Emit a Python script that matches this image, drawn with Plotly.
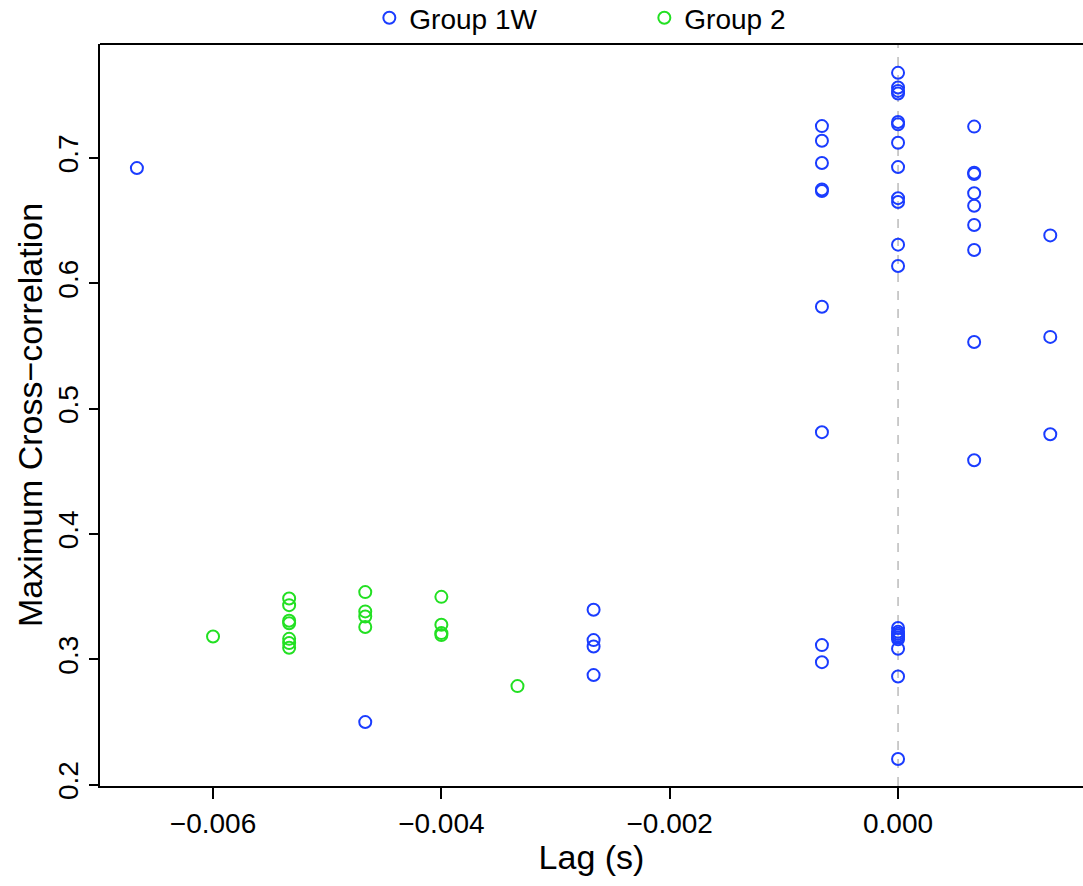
import plotly.graph_objects as go

# Lags are multiples of 1/1500 s
g1_lag_steps = ([-10, -7] + [-4] * 4 + [-1] * 9 + [0] * 21 + [1] * 9 + [2] * 3)
g1_corr = [
    0.692, 0.250,
    0.3396, 0.3154, 0.3103, 0.2875,
    0.7255, 0.7138, 0.696, 0.675, 0.6737, 0.5814, 0.4813, 0.3114, 0.2978,
    0.768, 0.7563, 0.7536, 0.7515, 0.7288, 0.7269, 0.7122, 0.6928, 0.668, 0.665,
    0.6309, 0.6139, 0.325, 0.322, 0.319, 0.316, 0.3085, 0.2864, 0.2205, 0.3205, 0.3175,
    0.7251, 0.6883, 0.6872, 0.6719, 0.662, 0.6466, 0.6266, 0.5533, 0.4589,
    0.6383, 0.5573, 0.4797,
]
g2_lag_steps = [-9] + [-8] * 7 + [-7] * 4 + [-6] * 4 + [-5]
g2_corr = [
    0.3183,
    0.3486, 0.3433, 0.3308, 0.3289, 0.3164, 0.313, 0.3093,
    0.3537, 0.3383, 0.3342, 0.3258,
    0.3499, 0.3276, 0.321, 0.3194,
    0.2787,
]
fs = 1500.0
g1_lag = [s / fs for s in g1_lag_steps]
g2_lag = [s / fs for s in g2_lag_steps]

x_ticks = [-0.006, -0.004, -0.002, 0.0]
y_ticks = [0.2, 0.3, 0.4, 0.5, 0.6, 0.7]

BLUE = "#1a3cff"
GREEN = "#22e022"
FONT = "Liberation Sans, Arial, Helvetica, sans-serif"

fig = go.Figure()
fig.add_trace(go.Scatter(
    x=g1_lag, y=g1_corr, mode="markers", name="Group 1W",
    marker=dict(symbol="circle-open", size=12, color=BLUE, line=dict(width=2, color=BLUE)),
))
fig.add_trace(go.Scatter(
    x=g2_lag, y=g2_corr, mode="markers", name="Group 2",
    marker=dict(symbol="circle-open", size=12, color=GREEN, line=dict(width=2, color=GREEN)),
))

fig.add_shape(type="line", xref="x", yref="paper", x0=0, x1=0, y0=0, y1=1,
              line=dict(color="#bbbbbb", width=1.5, dash="dash"), layer="below")
fig.add_shape(type="line", xref="paper", yref="paper", x0=0, x1=1, y0=1, y1=1,
              line=dict(color="black", width=1.8))

fig.update_layout(
    width=1083, height=886,
    margin=dict(l=100, r=0, t=44, b=100, autoexpand=False),
    plot_bgcolor="white", paper_bgcolor="white",
    font=dict(family=FONT, size=28, color="black"),
    showlegend=True,
    legend=dict(orientation="h", x=0.274, xanchor="left", y=1.0687, yanchor="top",
                font=dict(size=28), entrywidth=230, entrywidthmode="pixels",
                bgcolor="rgba(0,0,0,0)", itemclick=False),
    xaxis=dict(
        range=[-0.00699, 0.00162], tickvals=x_ticks, tickformat=".3f", automargin=False,
        showgrid=False, zeroline=False, showline=True, linecolor="black", linewidth=1.8,
        ticks="outside", ticklen=11, tickwidth=1.5, tickcolor="black",
        title=dict(text="Lag (s)", standoff=8), tickfont=dict(size=28),
    ),
    yaxis=dict(
        range=[0.199, 0.791], tickvals=y_ticks, tickformat=".1f", tickangle=-90, automargin=False,
        showgrid=False, zeroline=False, showline=True, linecolor="black", linewidth=1.8,
        ticks="outside", ticklen=9, tickwidth=1.5, tickcolor="black",
        title=dict(text="Maximum Cross\u2212correlation", standoff=0), tickfont=dict(size=28),
    ),
)

fig.write_html("out.html")
